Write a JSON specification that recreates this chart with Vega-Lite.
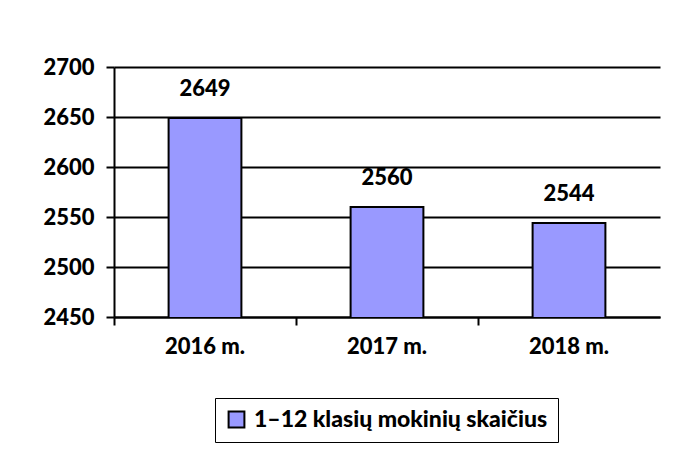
{
  "$schema": "https://vega.github.io/schema/vega-lite/v6.json",
  "width": 546,
  "height": 250,
  "autosize": {"type": "none"},
  "padding": {"left": 114, "top": 67, "right": 20, "bottom": 143},
  "background": "white",
  "config": {
    "font": "Lato",
    "view": {"stroke": null},
    "axis": {"labelFont": "Lato", "labelFontWeight": 900, "labelFontSize": 22, "labelColor": "black", "domainColor": "black", "domainWidth": 2, "tickColor": "black", "tickWidth": 2, "tickSize": 8, "gridColor": "black", "gridWidth": 2, "gridOpacity": 1}
  },
  "data": {
    "values": [
      {"metai": "2016 m.", "reiksme": 2649, "serija": "1–12 klasių mokinių skaičius"},
      {"metai": "2017 m.", "reiksme": 2560, "serija": "1–12 klasių mokinių skaičius"},
      {"metai": "2018 m.", "reiksme": 2544, "serija": "1–12 klasių mokinių skaičius"}
    ]
  },
  "encoding": {
    "x": {
      "field": "metai", "type": "nominal", "sort": null,
      "scale": {"paddingInner": 0, "paddingOuter": 0},
      "axis": {"title": null, "labelAngle": 0, "bandPosition": 0, "labelPadding": 11, "grid": false, "domain": true}
    }
  },
  "layer": [
    {
      "mark": {"type": "bar", "stroke": "black", "strokeWidth": 2, "width": {"band": 0.4}, "clip": true},
      "encoding": {
        "y": {
          "field": "reiksme", "type": "quantitative",
          "scale": {"domain": [2450, 2700], "nice": false, "zero": false},
          "axis": {"title": null, "format": "d", "values": [2450, 2500, 2550, 2600, 2650, 2700], "grid": true, "labelPadding": 12}
        },
        "fill": {
          "field": "serija", "type": "nominal",
          "scale": {"range": ["#9999FF"]},
          "legend": {
            "title": null, "orient": "none", "legendX": 101, "legendY": 331,
            "strokeColor": "black", "padding": 10, "fillColor": "white",
            "labelFont": "Lato", "labelFontWeight": 900, "labelFontSize": 23, "labelColor": "black",
            "symbolType": "square", "symbolSize": 250, "symbolStrokeColor": "black", "symbolStrokeWidth": 2, "symbolOpacity": 1, "labelOffset": 6, "labelLimit": 400,
            "encoding": {"legend": {"update": {"strokeWidth": {"value": 2}}}}
          }
        }
      }
    },
    {
      "mark": {"type": "text", "font": "Lato", "fontWeight": 900, "fontSize": 22, "color": "black", "baseline": "middle", "dy": -29},
      "encoding": {
        "y": {"field": "reiksme", "type": "quantitative"},
        "text": {"field": "reiksme", "type": "quantitative", "format": "d"}
      }
    }
  ]
}
